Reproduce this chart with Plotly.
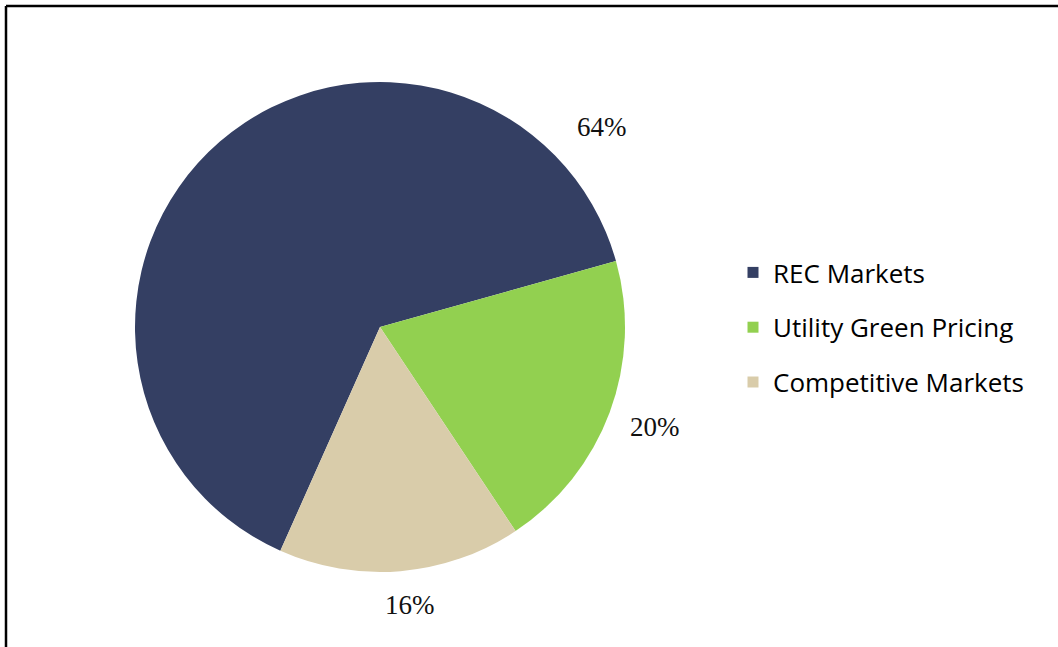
import plotly.graph_objects as go

labels = ["REC Markets", "Utility Green Pricing", "Competitive Markets"]
values = [64, 20, 16]
colors = ["#343F63", "#92D050", "#D9CCAA"]

# label positions (paper pixel coords) for the percentage texts
label_pos = [(602, 127), (655, 427), (410, 605)]

W, H = 1058, 647
cx, cy, r = 380, 327, 245

fig = go.Figure()
fig.add_trace(go.Pie(
    labels=labels, values=values, sort=False, direction="clockwise",
    rotation=204, marker=dict(colors=colors, line=dict(width=0)),
    textinfo="none", showlegend=False, hoverinfo="label+percent",
    domain=dict(x=[(cx - r) / W, (cx + r) / W], y=[(H - cy - r) / H, (H - cy + r) / H]),
))

for lab, col in zip(labels, colors):
    fig.add_trace(go.Scatter(x=[None], y=[None], mode="markers", name=lab,
                             legendgroup=lab,
                             marker=dict(symbol="square", size=11, color=col)))

total = sum(values)
for v, (px, py) in zip(values, label_pos):
    fig.add_annotation(x=px / W, y=1 - py / H, xref="paper", yref="paper",
                       xanchor="center", yanchor="middle",
                       text=f"{round(100 * v / total)}%", showarrow=False,
                       font=dict(family="Liberation Serif", size=27, color="#111111"))

fig.add_shape(type="line", xref="paper", yref="paper", x0=6 / W, x1=1, y0=1 - 6 / H, y1=1 - 6 / H,
              line=dict(color="black", width=2.5))
fig.add_shape(type="line", xref="paper", yref="paper", x0=6 / W, x1=6 / W, y0=0, y1=1 - 6 / H,
              line=dict(color="black", width=2.5))

fig.update_layout(
    width=W, height=H, margin=dict(l=0, r=0, t=0, b=0),
    paper_bgcolor="white", plot_bgcolor="white",
    xaxis=dict(visible=False), yaxis=dict(visible=False),
    showlegend=True,
    legend=dict(x=733 / W, y=1 - 249 / H, xanchor="left", yanchor="top",
                font=dict(family="Open Sans", size=26, color="#000000"),
                tracegroupgap=18, bgcolor="rgba(0,0,0,0)", itemwidth=30),
)

fig.write_html("out.html")
